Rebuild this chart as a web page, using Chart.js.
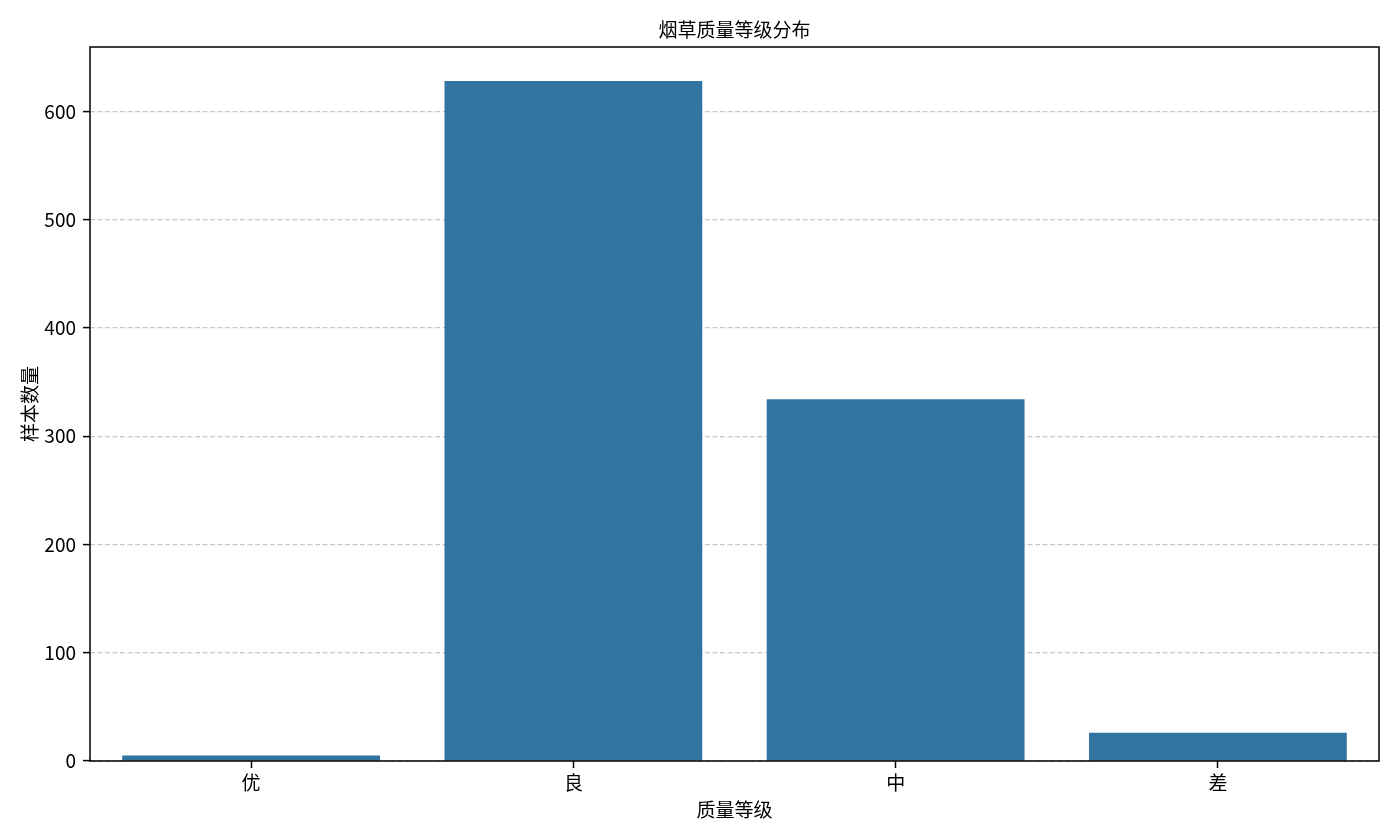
<!DOCTYPE html>
<html>
<head>
<meta charset="utf-8">
<script src="https://cdn.jsdelivr.net/npm/chart.js@4"></script>
<style>
  html, body { margin: 0; padding: 0; background: #fff; }
  #wrap { width: 1400px; height: 840px; }
</style>
</head>
<body>
<div id="wrap"><canvas id="c" width="1400" height="840"></canvas></div>
<script>
const categories = ['优', '良', '中', '差'];
const sampleCounts = [5, 628, 334, 26];
const yTickValues = [0, 100, 200, 300, 400, 500, 600];
const titleText = '烟草质量等级分布';
const xTitle = '质量等级';
const yTitle = '样本数量';

const FONT = '"Noto Sans CJK SC", "Noto Sans", sans-serif';
const barColor = '#3274a1';
const yMax = Math.max(...sampleCounts) * 1.05;

const boxPlugin = {
  id: 'box',
  afterDatasetsDraw(chart) {
    const a = chart.chartArea;
    const ctx = chart.ctx;
    ctx.save();
    ctx.strokeStyle = '#000';
    ctx.lineWidth = 1.5;
    ctx.setLineDash([]);
    ctx.strokeRect(a.left, a.top, a.right - a.left, a.bottom - a.top);
    ctx.restore();
  },
  afterDraw(chart) {
    const a = chart.chartArea;
    const ctx = chart.ctx;
    ctx.save();
    ctx.fillStyle = '#000';
    ctx.font = '19px ' + FONT;
    ctx.textAlign = 'center';
    ctx.textBaseline = 'middle';
    ctx.fillText(titleText, (a.left + a.right) / 2, 30);
    ctx.restore();
  }
};

new Chart(document.getElementById('c'), {
  type: 'bar',
  data: {
    labels: categories,
    datasets: [{
      data: sampleCounts,
      backgroundColor: barColor,
      borderWidth: 0,
      barPercentage: 0.8,
      categoryPercentage: 1.0
    }]
  },
  options: {
    responsive: false,
    animation: false,
    devicePixelRatio: 1,
    layout: { padding: { left: 0, right: 21, top: 47, bottom: 0 } },
    plugins: {
      legend: { display: false },
      tooltip: { enabled: false },
      title: { display: false }
    },
    scales: {
      x: {
        offset: true,
        grid: {
          display: true,
          drawOnChartArea: false,
          drawTicks: true,
          offset: false,
          tickLength: 7,
          tickColor: '#000',
          tickWidth: 1.5,
          tickBorderDash: []
        },
        border: { display: false },
        ticks: {
          color: '#000',
          padding: 3,
          maxRotation: 0,
          font: { family: FONT, size: 19, lineHeight: 1.2 }
        },
        title: {
          display: true,
          text: xTitle,
          color: '#000',
          font: { family: FONT, size: 19, lineHeight: 1.2 },
          padding: { top: 0, bottom: 18.6 }
        },
        afterFit(scale) { scale.height = 79; }
      },
      y: {
        min: 0,
        max: yMax,
        afterBuildTicks(scale) {
          scale.ticks = yTickValues.map(v => ({ value: v }));
        },
        grid: {
          display: true,
          drawOnChartArea: true,
          drawTicks: true,
          color: 'rgba(176,176,176,0.7)',
          lineWidth: 1.2,
          borderDash: [5, 2.5],
          tickLength: 7,
          tickColor: '#000',
          tickWidth: 1.5,
          tickBorderDash: []
        },
        border: { display: false, dash: [5, 2.5] },
        ticks: {
          color: '#000',
          padding: 7,
          font: { family: FONT, size: 19, lineHeight: 1.2 },
          callback: (v) => String(v)
        },
        title: {
          display: true,
          text: yTitle,
          color: '#000',
          font: { family: FONT, size: 19, lineHeight: 1.2 },
          padding: { top: 18.6, bottom: 0 }
        },
        afterFit(scale) { scale.width = 90; }
      }
    }
  },
  plugins: [boxPlugin]
});
</script>
</body>
</html>
